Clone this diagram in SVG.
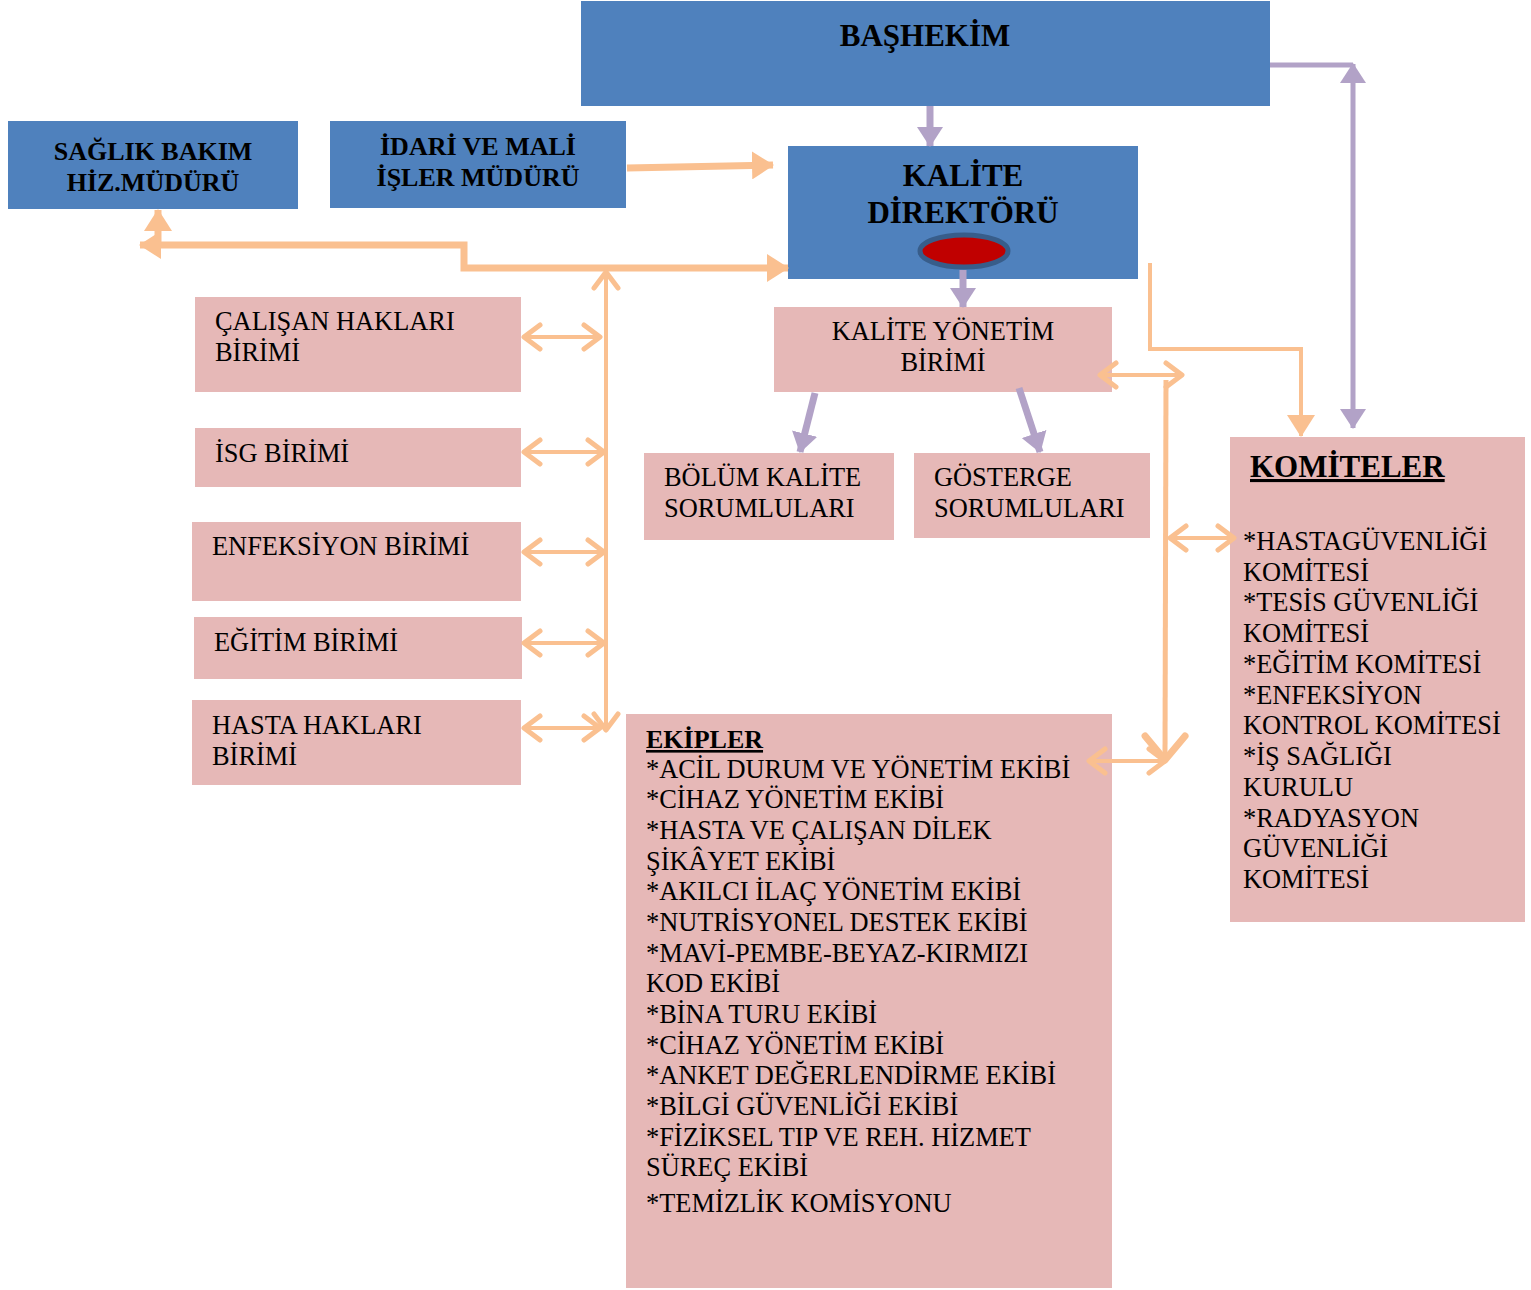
<svg xmlns="http://www.w3.org/2000/svg" width="1531" height="1290" viewBox="0 0 1531 1290">
<style>
.blue{fill:#4F81BD}
.pink{fill:#E6B8B7}
text{font-family:"Liberation Serif","Times New Roman",serif;fill:#000}
.b{font-weight:bold}
.n{font-size:26.4px}
.ul{text-decoration:underline}
.pl{stroke:#B2A2C7;fill:none}
.ot{stroke:#FAC090;fill:none}
</style>
<defs>
<marker id="ptri" markerUnits="userSpaceOnUse" markerWidth="20" markerHeight="26" viewBox="0 0 20 26" refX="19" refY="13" orient="auto-start-reverse">
<path d="M0,0 L20,13 L0,26 Z" fill="#B2A2C7"/>
</marker>
<marker id="otri" markerUnits="userSpaceOnUse" markerWidth="22" markerHeight="28" viewBox="0 0 22 28" refX="21" refY="14" orient="auto-start-reverse">
<path d="M0,0 L22,14 L0,28 Z" fill="#FAC090"/>
</marker>
<marker id="chev" markerUnits="userSpaceOnUse" markerWidth="26" markerHeight="32" viewBox="0 0 26 32" refX="22" refY="16" orient="auto-start-reverse">
<path d="M6,4 L22,16 L6,28" fill="none" stroke="#FAC090" stroke-width="5" stroke-linecap="round" stroke-linejoin="round"/>
</marker>
<marker id="chevL" markerUnits="userSpaceOnUse" markerWidth="34" markerHeight="48" viewBox="0 0 34 48" refX="30" refY="24" orient="auto-start-reverse">
<path d="M6,4 L30,24 L6,44" fill="none" stroke="#FAC090" stroke-width="7" stroke-linecap="round" stroke-linejoin="round"/>
</marker>
</defs>

<g id="bashekim">
<rect class="blue" x="581" y="1" width="689" height="105"/>
<text class="b" x="925" y="46" font-size="31" text-anchor="middle">BAŞHEKİM</text>
</g>

<g id="saglik-bakim">
<rect class="blue" x="8" y="121" width="290" height="88"/>
<text class="b" x="153" y="160" font-size="26" text-anchor="middle">SAĞLIK BAKIM</text>
<text class="b" x="153" y="191" font-size="26" text-anchor="middle">HİZ.MÜDÜRÜ</text>
</g>

<g id="idari-mali">
<rect class="blue" x="330" y="121" width="296" height="87"/>
<text class="b" x="478" y="155" font-size="26" text-anchor="middle">İDARİ VE MALİ</text>
<text class="b" x="478" y="186" font-size="26" text-anchor="middle">İŞLER MÜDÜRÜ</text>
</g>

<g id="kalite-direktoru">
<rect class="blue" x="788" y="146" width="350" height="133"/>
<text class="b" x="963" y="186" font-size="31" text-anchor="middle">KALİTE</text>
<text class="b" x="963" y="223" font-size="31" text-anchor="middle">DİREKTÖRÜ</text>
<ellipse cx="964" cy="251" rx="44" ry="16" fill="#C00000" stroke="#385D8A" stroke-width="5"/>
</g>

<g id="kalite-yonetim">
<rect class="pink" x="774" y="307" width="338" height="85"/>
<text class="n" x="943" y="340" text-anchor="middle">KALİTE YÖNETİM</text>
<text class="n" x="943" y="371" text-anchor="middle">BİRİMİ</text>
</g>

<g id="bolum-kalite">
<rect class="pink" x="644" y="453" width="250" height="87"/>
<text class="n" x="664" y="486">BÖLÜM KALİTE</text>
<text class="n" x="664" y="517">SORUMLULARI</text>
</g>

<g id="gosterge">
<rect class="pink" x="914" y="453" width="236" height="85"/>
<text class="n" x="934" y="486">GÖSTERGE</text>
<text class="n" x="934" y="517">SORUMLULARI</text>
</g>

<g id="calisan-haklari">
<rect class="pink" x="195" y="297" width="326" height="95"/>
<text class="n" x="215" y="330">ÇALIŞAN HAKLARI</text>
<text class="n" x="215" y="361">BİRİMİ</text>
</g>

<g id="isg">
<rect class="pink" x="195" y="428" width="326" height="59"/>
<text class="n" x="215" y="462">İSG BİRİMİ</text>
</g>

<g id="enfeksiyon">
<rect class="pink" x="192" y="522" width="329" height="79"/>
<text class="n" x="212" y="555">ENFEKSİYON BİRİMİ</text>
</g>

<g id="egitim">
<rect class="pink" x="194" y="617" width="328" height="62"/>
<text class="n" x="214" y="651">EĞİTİM BİRİMİ</text>
</g>

<g id="hasta-haklari">
<rect class="pink" x="192" y="700" width="329" height="85"/>
<text class="n" x="212" y="734">HASTA HAKLARI</text>
<text class="n" x="212" y="765">BİRİMİ</text>
</g>

<g id="komiteler">
<rect class="pink" x="1230" y="437" width="295" height="485"/>
<text class="b ul" x="1250" y="477" font-size="31">KOMİTELER</text>
<text class="n" x="1243" y="550">*HASTAGÜVENLİĞİ</text>
<text class="n" x="1243" y="581">KOMİTESİ</text>
<text class="n" x="1243" y="611">*TESİS GÜVENLİĞİ</text>
<text class="n" x="1243" y="642">KOMİTESİ</text>
<text class="n" x="1243" y="673">*EĞİTİM KOMİTESİ</text>
<text class="n" x="1243" y="704">*ENFEKSİYON</text>
<text class="n" x="1243" y="734">KONTROL KOMİTESİ</text>
<text class="n" x="1243" y="765">*İŞ SAĞLIĞI</text>
<text class="n" x="1243" y="796">KURULU</text>
<text class="n" x="1243" y="827">*RADYASYON</text>
<text class="n" x="1243" y="857">GÜVENLİĞİ</text>
<text class="n" x="1243" y="888">KOMİTESİ</text>
</g>

<g id="ekipler">
<rect class="pink" x="626" y="714" width="486" height="574"/>
<text class="b ul" font-size="26" x="646" y="748">EKİPLER</text>
<text class="n" x="646" y="778">*ACİL DURUM VE YÖNETİM EKİBİ</text>
<text class="n" x="646" y="808">*CİHAZ YÖNETİM EKİBİ</text>
<text class="n" x="646" y="839">*HASTA VE ÇALIŞAN DİLEK</text>
<text class="n" x="646" y="870">ŞİKÂYET EKİBİ</text>
<text class="n" x="646" y="900">*AKILCI İLAÇ YÖNETİM EKİBİ</text>
<text class="n" x="646" y="931">*NUTRİSYONEL DESTEK EKİBİ</text>
<text class="n" x="646" y="962">*MAVİ-PEMBE-BEYAZ-KIRMIZI</text>
<text class="n" x="646" y="992">KOD EKİBİ</text>
<text class="n" x="646" y="1023">*BİNA TURU EKİBİ</text>
<text class="n" x="646" y="1054">*CİHAZ YÖNETİM EKİBİ</text>
<text class="n" x="646" y="1084">*ANKET DEĞERLENDİRME EKİBİ</text>
<text class="n" x="646" y="1115">*BİLGİ GÜVENLİĞİ EKİBİ</text>
<text class="n" x="646" y="1146">*FİZİKSEL TIP VE REH. HİZMET</text>
<text class="n" x="646" y="1176">SÜREÇ EKİBİ</text>
<text class="n" x="646" y="1212">*TEMİZLİK KOMİSYONU</text>
</g>

<g id="connectors">
<path class="pl" stroke-width="7" d="M930,106 L930,146" marker-end="url(#ptri)"/>
<path class="pl" stroke-width="7" d="M963,270 L963,307" marker-end="url(#ptri)"/>
<path class="pl" stroke-width="7" d="M815,393 L800,452" marker-end="url(#ptri)"/>
<path class="pl" stroke-width="7" d="M1019,388 L1040,452" marker-end="url(#ptri)"/>
<path class="pl" stroke-width="5" d="M1270,65 L1353,65"/>
<path class="pl" stroke-width="5" d="M1353,64 L1353,428" marker-start="url(#ptri)" marker-end="url(#ptri)"/>
<path class="ot" stroke-width="7" d="M627,168 L773,165" marker-end="url(#otri)"/>
<path class="ot" stroke-width="7" d="M140,245 L464,245 L464,268 L788,268" marker-start="url(#otri)" marker-end="url(#otri)"/>
<path class="ot" stroke-width="7" d="M158,245 L158,210" marker-end="url(#otri)"/>
<path class="ot" stroke-width="4" d="M1150,263 L1150,349 L1301,349 L1301,436" marker-end="url(#otri)"/>
<path class="ot" stroke-width="4" d="M606,272 L606,730" marker-start="url(#chev)" marker-end="url(#chev)"/>
<path class="ot" stroke-width="4" d="M524,337 L600,337" marker-start="url(#chev)" marker-end="url(#chev)"/>
<path class="ot" stroke-width="4" d="M524,452 L604,452" marker-start="url(#chev)" marker-end="url(#chev)"/>
<path class="ot" stroke-width="4" d="M524,552 L604,552" marker-start="url(#chev)" marker-end="url(#chev)"/>
<path class="ot" stroke-width="4" d="M524,643 L604,643" marker-start="url(#chev)" marker-end="url(#chev)"/>
<path class="ot" stroke-width="4" d="M524,728 L600,728" marker-start="url(#chev)" marker-end="url(#chev)"/>
<path class="ot" stroke-width="4" d="M1100,375 L1182,375" marker-start="url(#chev)" marker-end="url(#chev)"/>
<path class="ot" stroke-width="5" d="M1166,380 L1165,760" marker-end="url(#chevL)"/>
<path class="ot" stroke-width="4" d="M1170,538 L1234,538" marker-start="url(#chev)" marker-end="url(#chev)"/>
<path class="ot" stroke-width="4" d="M1089,761 L1165,761" marker-start="url(#chev)" marker-end="url(#chev)"/>
</g>
</svg>
